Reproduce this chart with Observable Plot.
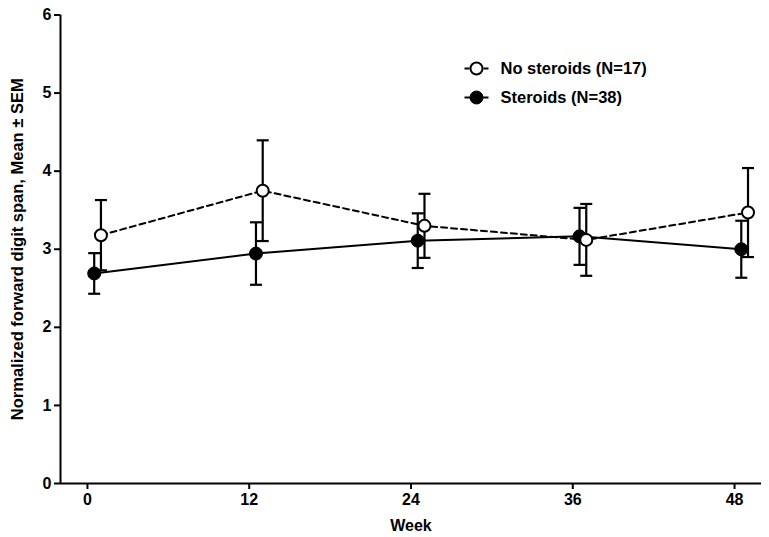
<!DOCTYPE html>
<html>
<head>
<meta charset="utf-8">
<script src="https://cdn.jsdelivr.net/npm/d3@7"></script>
<script src="https://cdn.jsdelivr.net/npm/@observablehq/plot@0.6"></script>
<style>
  html, body { margin: 0; padding: 0; background: #fff; }
  #chart svg { display: block; }
</style>
</head>
<body>
<div id="chart"></div>
<script>
// ---- data ----
const weeksNoSteroids = [1, 13, 25, 37, 49];
const meanNoSteroids  = [3.18, 3.75, 3.30, 3.12, 3.47];
const semNoSteroids   = [0.45, 0.645, 0.41, 0.46, 0.57];

const weeksSteroids = [0.5, 12.5, 24.5, 36.5, 48.5];
const meanSteroids  = [2.69, 2.945, 3.11, 3.165, 3.00];
const semSteroids   = [0.26, 0.40, 0.35, 0.365, 0.365];

const xTicks = [0, 12, 24, 36, 48];
const yTicks = [0, 1, 2, 3, 4, 5, 6];
const seriesLabels = ["No steroids (N=17)", "Steroids (N=38)"];
const xLabel = "Week";
const yLabel = "Normalized forward digit span, Mean \u00b1 SEM";

// ---- build tables ----
const noSteroids = weeksNoSteroids.map((w, i) => ({week: w, mean: meanNoSteroids[i], sem: semNoSteroids[i]}));
const steroids = weeksSteroids.map((w, i) => ({week: w, mean: meanSteroids[i], sem: semSteroids[i]}));
const all = [...noSteroids, ...steroids];

const capSymbol = {draw(ctx) { ctx.moveTo(-6, 0); ctx.lineTo(6, 0); }};
const legendLine = {draw(ctx) { ctx.moveTo(-12, 0); ctx.lineTo(12, 0); }};

const font = "'Liberation Sans', Arial, sans-serif";

const chart = Plot.plot({
  width: 769,
  height: 537,
  marginLeft: 60,
  marginRight: 8,
  marginTop: 14.5,
  marginBottom: 54,
  style: {fontFamily: font, fontWeight: "bold", color: "#000", background: "#fff"},
  x: {domain: [-2, 50]},
  y: {domain: [0, 6]},
  marks: [
    // axes
    Plot.axisX({ticks: xTicks, tickFormat: "d", tickSize: 6, tickPadding: 4, fontSize: 16, fontWeight: "bold", strokeWidth: 2, label: null}),
    Plot.axisY({ticks: yTicks, tickFormat: "d", tickSize: 6, tickPadding: 3, fontSize: 16, fontWeight: "bold", strokeWidth: 2, label: null}),
    Plot.ruleY([0], {stroke: "#000", strokeWidth: 2}),
    Plot.ruleX([-2], {stroke: "#000", strokeWidth: 2}),
    Plot.text([xLabel], {frameAnchor: "bottom", dy: 42, fontSize: 16, fontWeight: "bold", textAnchor: "middle", lineAnchor: "middle", fill: "#000"}),
    Plot.text([yLabel], {frameAnchor: "left", dx: -43, rotate: -90, fontSize: 16.5, fontWeight: "bold", textAnchor: "middle", lineAnchor: "middle", fill: "#000"}),

    // lines
    Plot.line(noSteroids, {x: "week", y: "mean", stroke: "#000", strokeWidth: 2, strokeDasharray: "6,4"}),
    Plot.line(steroids, {x: "week", y: "mean", stroke: "#000", strokeWidth: 2}),

    // error bars
    Plot.ruleX(all, {x: "week", y1: d => d.mean - d.sem, y2: d => d.mean + d.sem, stroke: "#000", strokeWidth: 2.2}),
    Plot.dot(all, {x: "week", y: d => d.mean + d.sem, symbol: capSymbol, stroke: "#000", strokeWidth: 2.2, fill: "none"}),
    Plot.dot(all, {x: "week", y: d => d.mean - d.sem, symbol: capSymbol, stroke: "#000", strokeWidth: 2.2, fill: "none"}),

    // markers
    Plot.dot(steroids, {x: "week", y: "mean", r: 6.5, fill: "#000", stroke: "#000", strokeWidth: 1}),
    Plot.dot(noSteroids, {x: "week", y: "mean", r: 6, fill: "#fff", stroke: "#000", strokeWidth: 2}),

    // legend
    Plot.dot([seriesLabels[0]], {frameAnchor: "top-left", dx: 416, dy: 53.5, symbol: legendLine, stroke: "#000", strokeWidth: 2, strokeDasharray: "5,14", fill: "none"}),
    Plot.dot([seriesLabels[0]], {frameAnchor: "top-left", dx: 416, dy: 53.5, r: 6, fill: "#fff", stroke: "#000", strokeWidth: 2}),
    Plot.dot([seriesLabels[1]], {frameAnchor: "top-left", dx: 416, dy: 82.5, symbol: legendLine, stroke: "#000", strokeWidth: 2, fill: "none"}),
    Plot.dot([seriesLabels[1]], {frameAnchor: "top-left", dx: 416, dy: 82.5, r: 6.5, fill: "#000", stroke: "#000", strokeWidth: 1}),
    Plot.text([seriesLabels[0]], {frameAnchor: "top-left", dx: 440, dy: 53.5, text: d => d, textAnchor: "start", lineAnchor: "middle", fontSize: 16.5, fontWeight: "bold", fill: "#000"}),
    Plot.text([seriesLabels[1]], {frameAnchor: "top-left", dx: 440, dy: 82.5, text: d => d, textAnchor: "start", lineAnchor: "middle", fontSize: 16.5, fontWeight: "bold", fill: "#000"})
  ]
});

document.getElementById("chart").appendChild(chart);
</script>
</body>
</html>
